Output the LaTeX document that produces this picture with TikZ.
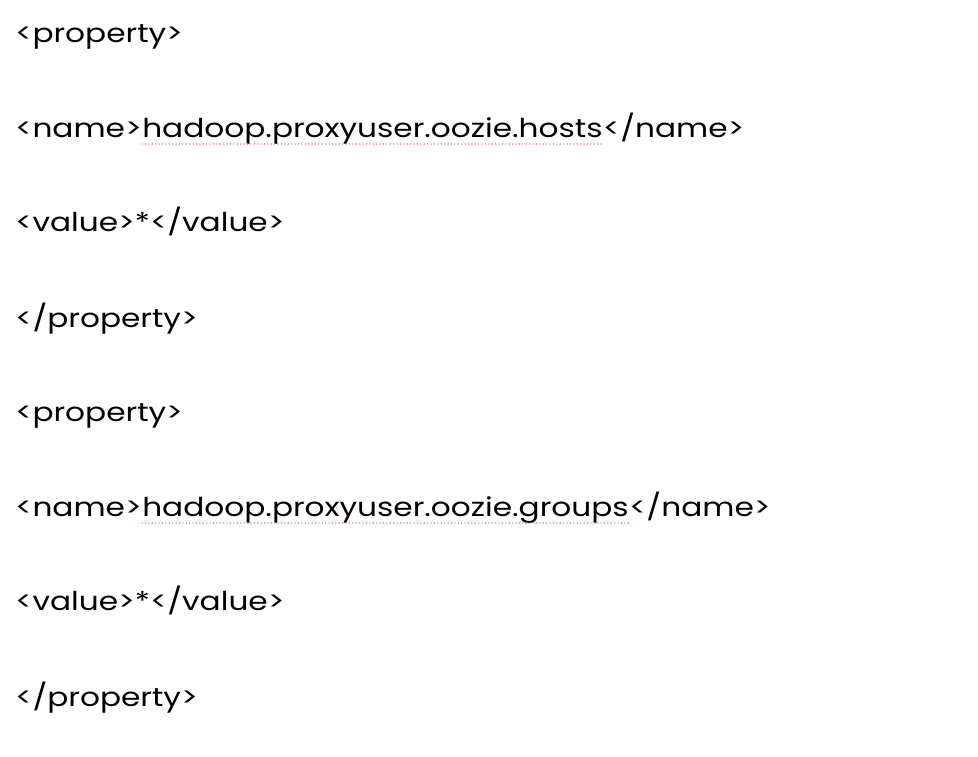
\documentclass[tikz,border=0pt]{standalone}
\usepackage{fontspec}
\setmainfont{Poppins}[FakeStretch=1.2]
\begin{document}
\begin{tikzpicture}[x=1pt,y=-1pt,
  txt/.style={inner sep=0pt,font=\fontsize{26}{30}\selectfont,text=black},
  squig/.style={draw=red!55,line width=1.6pt,line cap=round,dash pattern=on 0pt off 3.4pt}]
\useasboundingbox (0,0) rectangle (978,756);
\node[txt,anchor=base west] (l1) at (15,42) {<property>};
\node[txt,anchor=base west] (l2a) at (15,137) {<name>};
\node[txt,anchor=base west] (l2b) at (l2a.base east) {hadoop.proxyuser.oozie.hosts};
\node[txt,anchor=base west] (l2c) at (l2b.base east) {</name>};
\node[txt,anchor=base west] (l3) at (15,231) {<value>*</value>};
\node[txt,anchor=base west] (l4) at (15,327) {</property>};
\node[txt,anchor=base west] (l5) at (15,421) {<property>};
\node[txt,anchor=base west] (l6a) at (15,516) {<name>};
\node[txt,anchor=base west] (l6b) at (l6a.base east) {hadoop.proxyuser.oozie.groups};
\node[txt,anchor=base west] (l6c) at (l6b.base east) {</name>};
\node[txt,anchor=base west] (l7) at (15,610) {<value>*</value>};
\node[txt,anchor=base west] (l8) at (15,706) {</property>};
\draw[squig] ([yshift=-7pt]l2b.base west) -- ([yshift=-7pt]l2b.base east);
\draw[squig] ([yshift=-7pt]l6b.base west) -- ([yshift=-7pt]l6b.base east);
\end{tikzpicture}
\end{document}
